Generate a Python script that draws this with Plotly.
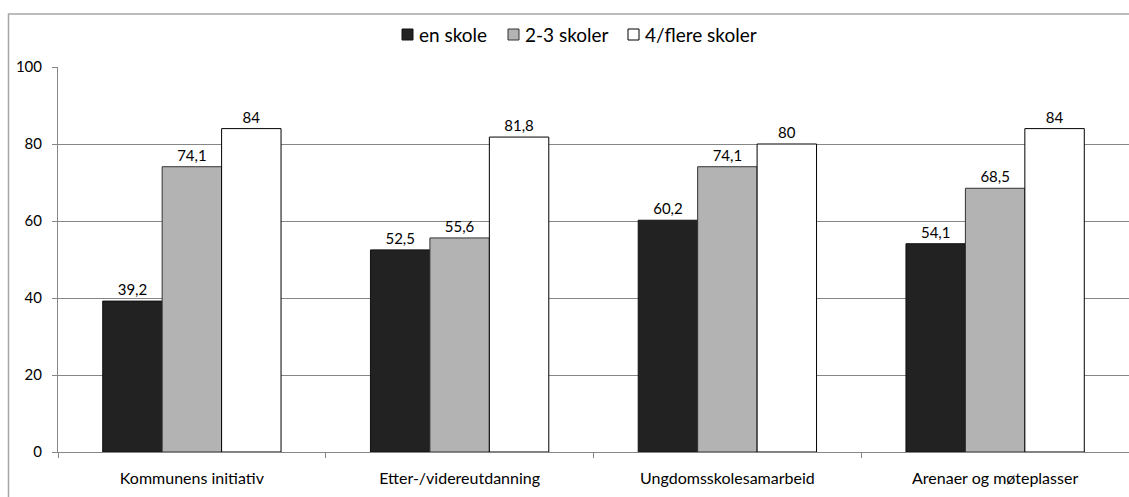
import plotly.graph_objects as go

categories = ["Kommunens initiativ", "Etter-/videreutdanning", "Ungdomsskolesamarbeid", "Arenaer og møteplasser"]
series_names = ["en skole", "2-3 skoler", "4/flere skoler"]
en_skole = [39.2, 52.5, 60.2, 54.1]
to_tre_skoler = [74.1, 55.6, 74.1, 68.5]
fire_flere = [84, 81.8, 80, 84]
y_ticks = [0, 20, 40, 60, 80, 100]

colors = ["#222222", "#b3b3b3", "#ffffff"]
lines = ["#111111", "#333333", "#000000"]

FONT = "Lato, Open Sans, sans-serif"

PX0, PW = 58, 1071      # plot area left edge & width on the page
PY0, PH = 452, 385      # plot area bottom & height on the page


def px(x):
    return (x - PX0) / PW


def py(y):
    return (PY0 - y) / PH


def fmt(v):
    return f"{v:g}".replace(".", ",")


fig = go.Figure()
for name, vals, c, lc in zip(series_names, [en_skole, to_tre_skoler, fire_flere], colors, lines):
    fig.add_trace(go.Bar(
        name=name, x=categories, y=vals,
        marker=dict(color=c, line=dict(color=lc, width=1)),
        text=[fmt(v) for v in vals], textposition="outside",
        textfont=dict(family=FONT, size=15, color="#000"),
        cliponaxis=False, showlegend=False,
    ))

fig.update_layout(
    width=1129, height=497,
    margin=dict(l=58, r=0, t=67, b=45, pad=0),
    paper_bgcolor="white", plot_bgcolor="white",
    barmode="group", bargap=0.334, bargroupgap=0,
    font=dict(family=FONT, size=15, color="#000"),
    showlegend=False,
    xaxis=dict(showgrid=False, showline=True, linecolor="#868686", linewidth=1,
               ticks="outside", tickson="boundaries", ticklen=5, tickcolor="#868686",
               tickfont=dict(family=FONT, size=16, color="#000"), range=[-0.5, 3.5],
               ticklabelstandoff=12),
    yaxis=dict(range=[0, 100], tickvals=y_ticks, showgrid=True, gridcolor="#868686", gridwidth=1,
               showline=True, linecolor="#868686", linewidth=1, ticks="outside", ticklen=5,
               tickcolor="#868686", tickfont=dict(family=FONT, size=15, color="#000"),
               zeroline=False, fixedrange=True, ticklabelstandoff=7),
)

# outer chart border
fig.add_shape(type="rect", xref="paper", yref="paper",
              x0=px(8.5), x1=1.05, y0=-0.3, y1=py(14),
              line=dict(color="#a6a6a6", width=1.5), fillcolor="rgba(0,0,0,0)", layer="below")

# legend drawn manually (swatch + label)
legend_swatch_x = [402, 508, 628]
for name, c, lc, sx in zip(series_names, colors, lines, legend_swatch_x):
    fig.add_shape(type="rect", xref="paper", yref="paper",
                  x0=px(sx), x1=px(sx + 11), y0=py(40), y1=py(29),
                  line=dict(color=lc, width=1), fillcolor=c)
    fig.add_annotation(xref="paper", yref="paper", x=px(sx + 15), y=py(34.5),
                       text=name, showarrow=False, xanchor="left", yanchor="middle",
                       font=dict(family=FONT, size=19, color="#000"))

fig.write_html(
    "out.html",
    config={"displayModeBar": False, "staticPlot": True},
    post_script="document.body.style.margin='0';document.documentElement.style.overflow='hidden';",
)
